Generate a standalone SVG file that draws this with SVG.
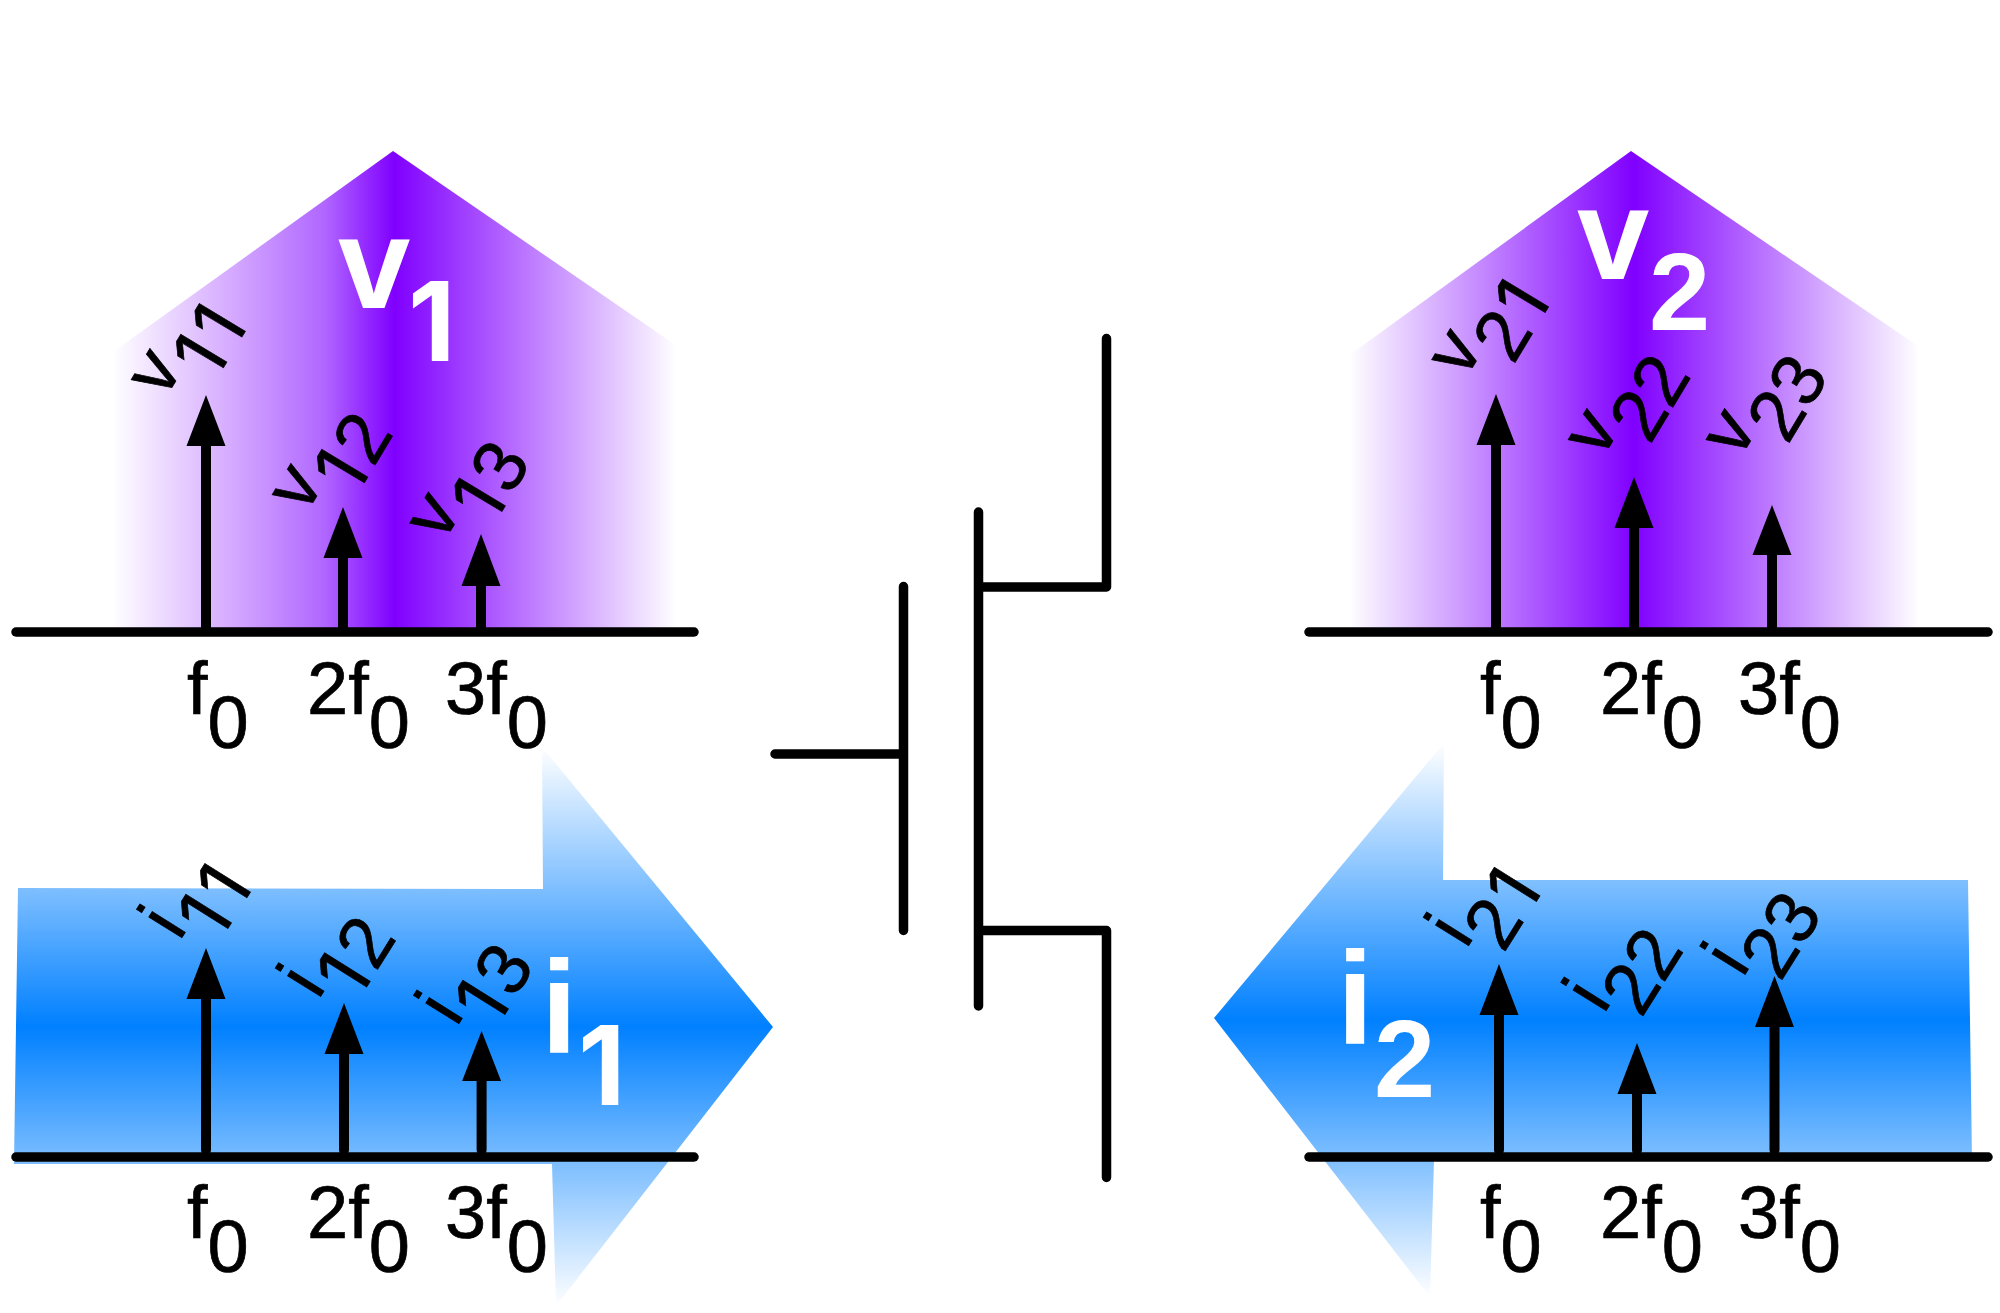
<svg xmlns="http://www.w3.org/2000/svg" width="2000" height="1313" viewBox="0 0 2000 1313">
<style>
text{font-family:"Liberation Sans",Arial,sans-serif}
.t{font-size:74px;fill:#000;stroke:#000;stroke-width:.7px}
.b{font-weight:bold;fill:#fff}
.o{font-family:Inter,"Liberation Sans",sans-serif}
.a{fill:none;stroke:#000;stroke-width:10;stroke-linecap:round;stroke-linejoin:round}
.c{fill:none;stroke:#000;stroke-width:9.5;stroke-linecap:round;stroke-linejoin:round}
.ax{fill:none;stroke:#000;stroke-width:9.5;stroke-linecap:round}
.h{fill:#000}
</style>
<defs>
<linearGradient id="p1" gradientUnits="userSpaceOnUse" x1="112" y1="0" x2="677" y2="0"><stop offset="0" stop-color="#fff"/><stop offset=".216" stop-color="#d4a8ff"/><stop offset=".377" stop-color="#b066ff"/><stop offset=".5" stop-color="#8000ff"/><stop offset="1" stop-color="#fff"/></linearGradient>
<linearGradient id="p2" gradientUnits="userSpaceOnUse" x1="1348" y1="0" x2="1920" y2="0"><stop offset="0" stop-color="#fff"/><stop offset=".5" stop-color="#8000ff"/><stop offset="1" stop-color="#fff"/></linearGradient>
<linearGradient id="b1" gradientUnits="userSpaceOnUse" x1="0" y1="747" x2="0" y2="1306"><stop offset="0" stop-color="#fff"/><stop offset=".5" stop-color="#0080ff"/><stop offset="1" stop-color="#fff"/></linearGradient>
<linearGradient id="b2" gradientUnits="userSpaceOnUse" x1="0" y1="743" x2="0" y2="1297"><stop offset="0" stop-color="#fff"/><stop offset=".5" stop-color="#0080ff"/><stop offset="1" stop-color="#fff"/></linearGradient>
</defs>
<g id="v1-block">
<path d="M393 151L677 346V632H113V352Z" fill="url(#p1)"/>
<text class="b" x="338" y="308" font-size="130">v</text><text class="b o" x="408" y="361" font-size="110">1</text>
</g>
<g id="v2-block">
<path d="M1631 151L1918 346V632H1351V354Z" fill="url(#p2)"/>
<text class="b" x="1577" y="279" font-size="130">v</text><text class="b" x="1649" y="330" font-size="110">2</text>
</g>
<g id="i1-block">
<path d="M542 747L773 1027L556 1306L552 1164H14L18 888L543 889Z" fill="url(#b1)"/>
<text class="b" x="541" y="1053" font-size="131">i</text><text class="b o" x="578" y="1105" font-size="110">1</text>
</g>
<g id="i2-block">
<path d="M1444 743L1214 1018L1430 1297L1434 1160H1972L1968 880H1443Z" fill="url(#b2)"/>
<text class="b" x="1337" y="1044" font-size="131">i</text><text class="b" x="1374" y="1097" font-size="110">2</text>
</g>
<g id="spectrum-v1">
<path class="ax" d="M16 632H694"/>
<path class="a" d="M206 631V440M343 631V552M481 631V580"/>
<path class="h" d="M206 395l19.500 51h-39zM343 507l19.500 51h-39zM481 534l19.500 52h-39z"/>
<text class="t" transform="translate(164.500 400) rotate(-59)">v<tspan class="o" dy="34" dx="4">1</tspan><tspan class="o" dx="6">1</tspan></text>
<text class="t" transform="translate(305.500 515) rotate(-59)">v<tspan class="o" dy="34" dx="4">1</tspan><tspan dx="4">2</tspan></text>
<text class="t" transform="translate(443 543.600) rotate(-59)">v<tspan class="o" dy="34" dx="4">1</tspan><tspan dx="4">3</tspan></text>
<text class="t" x="187" y="714">f<tspan dy="34">0</tspan></text>
<text class="t" x="307" y="714">2f<tspan dy="34">0</tspan></text>
<text class="t" x="445" y="714">3f<tspan dy="34">0</tspan></text>
</g>
<g id="spectrum-v2">
<path class="ax" d="M1309 632H1988"/>
<path class="a" d="M1496 631V440M1634 631V520M1772 631V550"/>
<path class="h" d="M1496 394l19.500 51h-39zM1634 477l19.500 51h-39zM1772 505l19.500 50h-39z"/>
<text class="t" transform="translate(1465 380) rotate(-59)">v<tspan dy="34">2</tspan><tspan class="o" dx="4">1</tspan></text>
<text class="t" transform="translate(1601.600 460) rotate(-59)">v<tspan dy="34">22</tspan></text>
<text class="t" transform="translate(1739.300 460) rotate(-59)">v<tspan dy="34">23</tspan></text>
<text class="t" x="1480" y="714">f<tspan dy="34">0</tspan></text>
<text class="t" x="1600" y="714">2f<tspan dy="34">0</tspan></text>
<text class="t" x="1738" y="714">3f<tspan dy="34">0</tspan></text>
</g>
<g id="spectrum-i1">
<path class="ax" d="M16 1157H694"/>
<path class="a" d="M206 1150V990M344 1150V1050M481.600 1150V1075"/>
<path class="h" d="M206 948l19.500 51h-39zM344 1003l19.500 51h-39zM481.600 1031l19.500 50h-39z"/>
<text class="t" transform="translate(179.300 942) rotate(-58)">i<tspan class="o" dy="34" dx="4">1</tspan><tspan class="o" dx="6">1</tspan></text>
<text class="t" transform="translate(318 1000.700) rotate(-58)">i<tspan class="o" dy="34" dx="4">1</tspan><tspan dx="4">2</tspan></text>
<text class="t" transform="translate(456.300 1028) rotate(-58)">i<tspan class="o" dy="34" dx="4">1</tspan><tspan dx="4">3</tspan></text>
<text class="t" x="187" y="1238">f<tspan dy="34">0</tspan></text>
<text class="t" x="307" y="1238">2f<tspan dy="34">0</tspan></text>
<text class="t" x="445" y="1238">3f<tspan dy="34">0</tspan></text>
</g>
<g id="spectrum-i2">
<path class="ax" d="M1309 1157H1988"/>
<path class="a" d="M1499 1150V1010M1637 1150V1090M1774.500 1150V1020"/>
<path class="h" d="M1499 964l19.500 51h-39zM1637 1043l19.500 51h-39zM1774.500 976l19.500 51h-39z"/>
<text class="t" transform="translate(1466 950) rotate(-58)">i<tspan dy="34">2</tspan><tspan class="o" dx="4">1</tspan></text>
<text class="t" transform="translate(1603.600 1015) rotate(-58)">i<tspan dy="34">22</tspan></text>
<text class="t" transform="translate(1742.600 978.800) rotate(-58)">i<tspan dy="34">23</tspan></text>
<text class="t" x="1480" y="1238">f<tspan dy="34">0</tspan></text>
<text class="t" x="1600" y="1238">2f<tspan dy="34">0</tspan></text>
<text class="t" x="1738" y="1238">3f<tspan dy="34">0</tspan></text>
</g>
<g id="connectors">
<path class="c" d="M775 754H903.500M903.500 586.500V930.500M978.500 512V1006M978.500 587H1106.500V338.500M978.500 930.500H1106.500V1177.500"/>
</g>
</svg>
